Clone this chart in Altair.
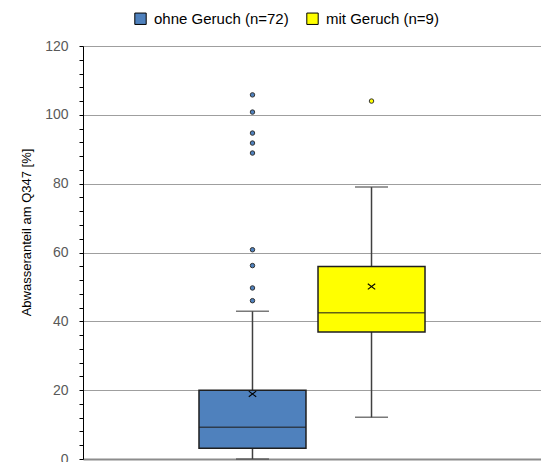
import altair as alt
import pandas as pd

# ---- data ----
groups = ["ohne Geruch (n=72)", "mit Geruch (n=9)"]
colors = ["#4F81BD", "#FFFF00"]
q1 = [3.1, 36.9]
medians = [9.2, 42.5]
q3 = [20.0, 55.9]
whisker_low = [0.0, 12.1]
whisker_high = [42.9, 79.0]
means = [18.9, 50.1]
outliers_ohne = [105.8, 100.8, 94.7, 91.8, 88.9, 60.8, 56.2, 49.7, 46.0]
outliers_mit = [104.0]
y_ticks = list(range(0, 121, 4))

box_df = pd.DataFrame({
    "Gruppe": groups,
    "q1": q1,
    "median": medians,
    "q3": q3,
    "lo": whisker_low,
    "hi": whisker_high,
    "mean": means,
})
out_df = pd.DataFrame({
    "Gruppe": [groups[0]] * len(outliers_ohne) + [groups[1]] * len(outliers_mit),
    "Wert": outliers_ohne + outliers_mit,
})

FONT = "Liberation Sans"

x_enc = alt.X(
    "Gruppe:N",
    sort=groups,
    scale=alt.Scale(domain=groups, paddingInner=0, paddingOuter=0.924),
    axis=alt.Axis(labels=False, ticks=False, title=None, grid=False,
                  domainColor="#8c8c8c", domainWidth=2),
)
y_scale = alt.Scale(domain=[0, 120], nice=False, zero=True)
y_axis = alt.Axis(
    values=y_ticks,
    labelExpr="datum.value % 20 == 0 ? datum.label : ''",
    grid=True,
    gridColor="#9f9f9f",
    gridWidth=1,
    gridOpacity={"condition": {"test": "datum.value % 20 === 0 && datum.value > 0", "value": 1}, "value": 0},
    title="Abwasseranteil am Q347 [%]",
    titleFont=FONT,
    titleFontSize=13,
    titleFontWeight="normal",
    titleColor="#000000",
    titleAngle=270,
    titleX=-57,
    titleY=186,
    titleAlign="center",
    titleBaseline="middle",
    labelFont=FONT,
    labelFontSize=14,
    labelColor="#595959",
    labelPadding=11,
    tickSize=4,
    tickColor="#000000",
    tickWidth=1,
    domainColor="#000000",
    domainWidth=1,
)

base = alt.Chart(box_df)

whisker_lo = base.mark_rule(color="#404040", strokeWidth=1.5).encode(
    x=x_enc, y=alt.Y("lo:Q", scale=y_scale, axis=y_axis), y2="q1:Q"
)
whisker_hi = base.mark_rule(color="#404040", strokeWidth=1.5).encode(
    x=x_enc, y=alt.Y("q3:Q", scale=y_scale, axis=y_axis), y2="hi:Q"
)
cap_lo = base.mark_tick(color="#404040", size=33, thickness=1.5).encode(
    x=x_enc, y=alt.Y("lo:Q", scale=y_scale, axis=y_axis)
)
cap_hi = base.mark_tick(color="#404040", size=33, thickness=1.5).encode(
    x=x_enc, y=alt.Y("hi:Q", scale=y_scale, axis=y_axis)
)
box = base.mark_bar(width=107, stroke="#1f1f1f", strokeWidth=1.5).encode(
    x=x_enc,
    y=alt.Y("q1:Q", scale=y_scale, axis=y_axis),
    y2="q3:Q",
    color=alt.Color(
        "Gruppe:N",
        sort=groups,
        scale=alt.Scale(domain=groups, range=colors),
        legend=alt.Legend(
            title=None,
            orient="none",
            direction="horizontal",
            legendX=50,
            legendY=-35,
            symbolType="square",
            symbolSize=130,
            symbolStrokeColor="#000000",
            symbolStrokeWidth=1,
            symbolOpacity=1,
            labelFont=FONT,
            labelFontSize=15,
            labelColor="#000000",
            labelOffset=6,
            labelLimit=300,
            columnPadding=15,
            padding=0,
        ),
    ),
)
median = base.mark_tick(color="#1f1f1f", size=107, thickness=1.5).encode(
    x=x_enc, y=alt.Y("median:Q", scale=y_scale, axis=y_axis)
)
mean = base.mark_point(
    shape="M-1,-0.75L1,0.75M-1,0.75L1,-0.75",
    size=55,
    filled=False,
    color="#000000",
    strokeWidth=1.1,
    opacity=1,
).encode(x=x_enc, y=alt.Y("mean:Q", scale=y_scale, axis=y_axis))

outl = alt.Chart(out_df).mark_point(
    shape="circle", size=20, filled=True, stroke="#333333", strokeWidth=1, opacity=1
).encode(
    x=x_enc,
    y=alt.Y("Wert:Q", scale=y_scale, axis=y_axis),
    fill=alt.Fill("Gruppe:N", scale=alt.Scale(domain=groups, range=colors), legend=None),
)

chart = (
    alt.layer(whisker_lo, whisker_hi, cap_lo, cap_hi, box, median, mean, outl)
    .properties(
        width=458,
        height=413,
        autosize=alt.AutoSizeParams(type="none"),
        padding={"left": 75, "top": 38, "right": 0, "bottom": 4},
    )
    .configure_view(stroke=None)
    .configure(background="#ffffff")
)

chart.save("out.html", embed_options={"renderer": "svg", "actions": False})
